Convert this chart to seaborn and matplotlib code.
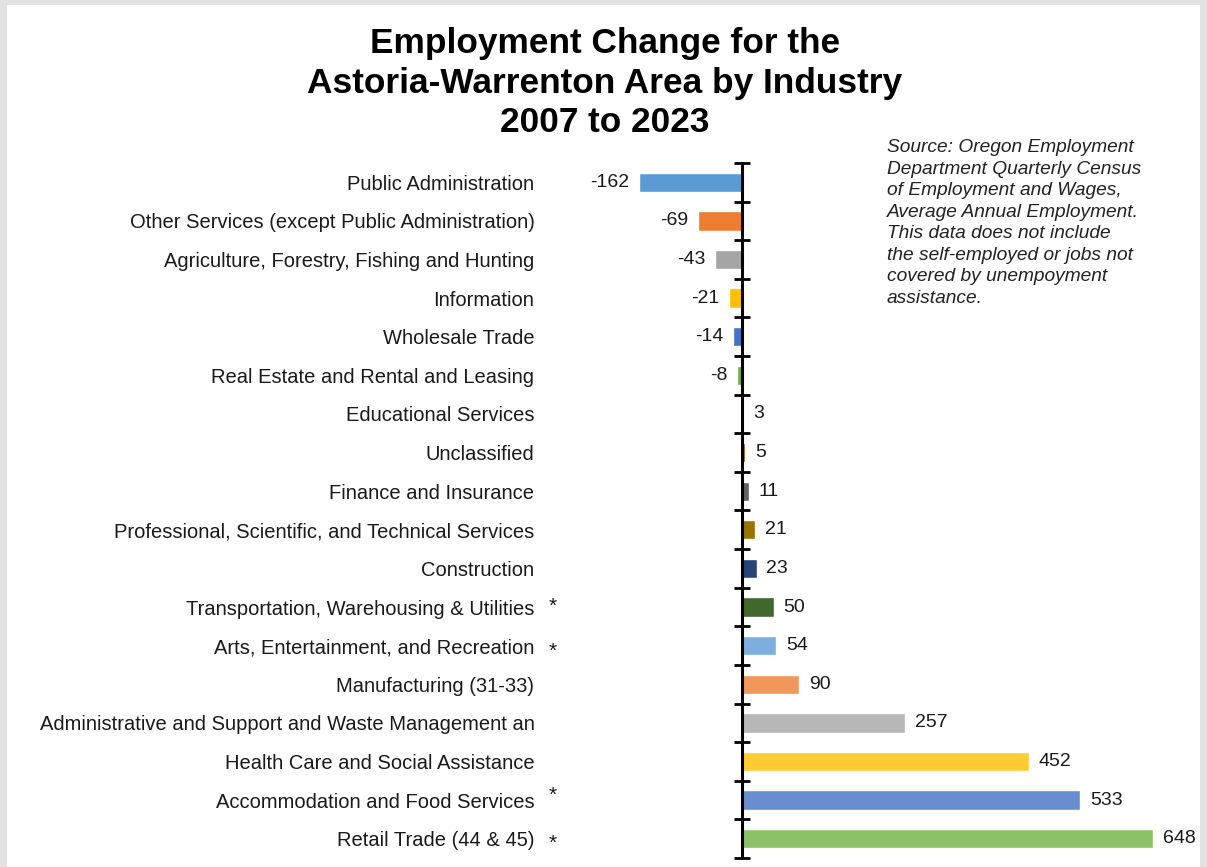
import matplotlib
matplotlib.use("Agg")
import matplotlib.pyplot as plt
import seaborn as sns
import pandas as pd
from matplotlib.patches import Rectangle
from matplotlib.ticker import FixedLocator

industries = [
    "Public Administration",
    "Other Services (except Public Administration)",
    "Agriculture, Forestry, Fishing and Hunting",
    "Information",
    "Wholesale Trade",
    "Real Estate and Rental and Leasing",
    "Educational Services",
    "Unclassified",
    "Finance and Insurance",
    "Professional, Scientific, and Technical Services",
    "Construction",
    "Transportation, Warehousing & Utilities",
    "Arts, Entertainment, and Recreation",
    "Manufacturing (31-33)",
    "Administrative and Support and Waste Management an",
    "Health Care and Social Assistance",
    "Accommodation and Food Services",
    "Retail Trade (44 & 45)",
]
changes = [-162, -69, -43, -21, -14, -8, 3, 5, 11, 21, 23, 50, 54, 90, 257, 452, 533, 648]
bar_colors = [
    "#5B9BD5", "#ED7D31", "#A5A5A5", "#FFC000", "#4472C4", "#70AD47",
    "#255E91", "#9E480E", "#636363", "#997300", "#264478", "#43682B",
    "#7CAFDD", "#F1975A", "#B7B7B7", "#FFCD33", "#698ED0", "#8CC168",
]
starred = [
    "Transportation, Warehousing & Utilities",
    "Arts, Entertainment, and Recreation",
    "Accommodation and Food Services",
    "Retail Trade (44 & 45)",
]
# vertical nudge of each asterisk, in pixels (up positive)
star_nudge = [1, -6, 5, -5]
title_text = "Employment Change for the\nAstoria-Warrenton Area by Industry\n2007 to 2023"
source_text = ("Source: Oregon Employment\nDepartment Quarterly Census\nof Employment and Wages,\n"
               "Average Annual Employment.\nThis data does not include\nthe self-employed or jobs not\n"
               "covered by unempoyment\nassistance.")

sns.set_theme(style="white")
plt.rcParams["font.family"] = ["Liberation Sans", "DejaVu Sans"]

W, H = 1207, 867
fig = plt.figure(figsize=(W / 100, H / 100), dpi=100)
fig.patch.set_facecolor("#E2E2E2")
fig.patches.append(Rectangle((7 / W, 0), (1200 - 7) / W, (H - 5) / H,
                             transform=fig.transFigure, facecolor="white",
                             edgecolor="none", zorder=-5))

ax_left, ax_right = 540, 1195
ax_top, ax_bot = 163, 858
ax = fig.add_axes([ax_left / W, (H - ax_bot) / H, (ax_right - ax_left) / W, (ax_bot - ax_top) / H])
ax.set_zorder(2)
ax.set_facecolor("none")

df = pd.DataFrame({"Industry": industries, "Change": changes})
sns.barplot(data=df, x="Change", y="Industry", hue="Industry", palette=bar_colors,
            orient="h", width=0.5, legend=False, ax=ax, saturation=1)

scale = (1153 - 742) / 648.0
ax.set_xlim(-(742 - ax_left) / scale, (ax_right - 742) / scale)
ax.set_ylim(len(industries) - 0.5, -0.5)

for c in ax.containers:
    ax.bar_label(c, fmt="%d", padding=7, fontsize=14, color="#1a1a1a")

for s in ["top", "bottom", "left"]:
    ax.spines[s].set_visible(False)
ax.spines["right"].set_position(("data", 0))
ax.spines["right"].set_color("black")
ax.spines["right"].set_linewidth(2.2)
ax.set_xticks([])
ax.set_xlabel("")
ax.set_ylabel("")
ax.yaxis.set_minor_locator(FixedLocator([i - 0.5 for i in range(len(industries) + 1)]))
ax.tick_params(axis="y", which="major", length=0, pad=4, labelsize=14.5, labelcolor="#1a1a1a",
               left=True, right=False)
ax.tick_params(axis="y", which="minor", left=False, right=True, direction="inout",
               length=11, width=2, color="black")

for name, nudge in zip(starred, star_nudge):
    i = industries.index(name)
    ax.annotate("*", xy=(0, i), xycoords=("axes fraction", "data"),
                xytext=(553 - ax_left, nudge), textcoords="offset pixels",
                ha="center", va="center", fontsize=15, color="#1a1a1a")

fig.text(605 / W, 1 - 27 / H, title_text, ha="center", va="top", fontsize=25.4,
         fontweight="bold", color="black", linespacing=1.25)
fig.text(887 / W, 1 - 139 / H, source_text, ha="left", va="top", fontsize=13.8,
         style="italic", color="#222222", linespacing=1.35)

fig.savefig("out.png", dpi=100)
